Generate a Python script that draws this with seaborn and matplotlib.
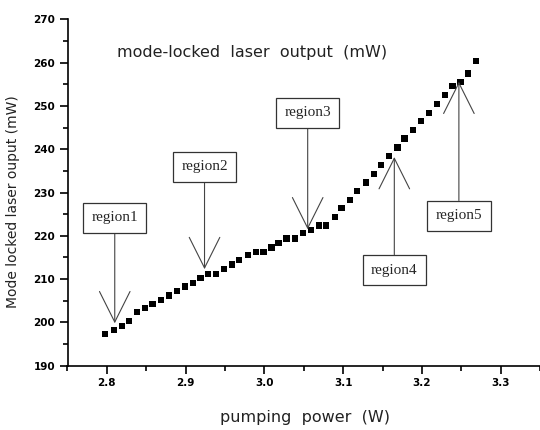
import matplotlib
matplotlib.use("Agg")
import matplotlib.pyplot as plt
import seaborn as sns
import numpy as np
from matplotlib.ticker import MultipleLocator

# ---- data ----
pump_power = [2.798, 2.809, 2.819, 2.828, 2.838, 2.848, 2.858, 2.869, 2.879, 2.889,
              2.899, 2.909, 2.919, 2.928, 2.939, 2.949, 2.959, 2.968, 2.979, 2.989,
              2.999, 3.009, 3.018, 3.028, 3.039, 3.049, 3.059, 3.069, 3.078, 3.090,
              3.098, 3.109, 3.118, 3.129, 3.139, 3.148, 3.158, 3.169, 3.178, 3.189,
              3.199, 3.209, 3.219, 3.229, 3.239, 3.249, 3.259, 3.269]
laser_output = [197.3, 198.2, 199.2, 200.3, 202.4, 203.3, 204.2, 205.2, 206.2, 207.3,
                208.3, 209.1, 210.2, 211.2, 211.2, 212.3, 213.4, 214.5, 215.5, 216.3,
                216.3, 217.3, 218.4, 219.4, 219.4, 220.6, 221.4, 222.4, 222.4, 224.4,
                226.4, 228.3, 230.4, 232.3, 234.3, 236.4, 238.4, 240.4, 242.5, 244.5,
                246.5, 248.4, 250.4, 252.5, 254.6, 255.5, 257.5, 260.4]

region_labels = ["region1", "region2", "region3", "region4", "region5"]
region_tip_x = [2.810, 2.924, 3.055, 3.165, 3.247]
region_tip_y = [199.8, 212.3, 221.5, 238.2, 255.6]
region_box_y = [224.2, 235.9, 248.4, 212.1, 224.6]

x_ticks = [2.8, 2.9, 3.0, 3.1, 3.2, 3.3]
y_ticks = [190, 200, 210, 220, 230, 240, 250, 260, 270]

sns.set_style("ticks")
plt.rcParams['font.family'] = ['DejaVu Sans']

fig = plt.figure(figsize=(5.4, 4.3), dpi=100)
ax = fig.add_axes([0.125, 0.1495, 0.875, 0.8055])

sns.scatterplot(x=pump_power, y=laser_output, marker='s', s=20, color='black',
                edgecolor='none', linewidth=0, ax=ax, legend=False)

ax.set_xlim(2.75, 3.35)
ax.set_ylim(190, 270)
ax.set_xticks(x_ticks)
ax.set_yticks(y_ticks)
ax.xaxis.set_minor_locator(MultipleLocator(0.05))
ax.yaxis.set_minor_locator(MultipleLocator(5))
ax.set_xticklabels([f"{v:.1f}" for v in x_ticks], fontsize=7.5, fontweight='bold')
ax.set_yticklabels([str(v) for v in y_ticks], fontsize=7.5, fontweight='bold')
ax.tick_params(axis='both', which='major', length=6, width=1.2, direction='out', pad=3, colors='black')
ax.tick_params(axis='both', which='minor', length=3.5, width=1.2, direction='out', colors='black')

sns.despine(ax=ax)
for s in ['left', 'bottom']:
    ax.spines[s].set_linewidth(1.2)
    ax.spines[s].set_color('black')

ax.set_xlabel("pumping  power  (W)", fontsize=11.5, color='#222222')
ax.xaxis.set_label_coords(0.503, -0.128)
ax.set_ylabel("Mode locked laser ouput (mW)", fontsize=10, color='#222222')
ax.yaxis.set_label_coords(-0.100, 0.475)

ax.text(0.3915, 0.903, "mode-locked  laser  output  (mW)", transform=ax.transAxes,
        ha='center', va='center', fontsize=11.5, color='#222222')

for lab, tx, ty, by in zip(region_labels, region_tip_x, region_tip_y, region_box_y):
    ax.annotate(lab, xy=(tx, ty), xytext=(tx, by), ha='center', va='center',
                fontsize=11, family=['Liberation Serif', 'DejaVu Serif'],
                bbox=dict(boxstyle='square,pad=0.55', fc='white', ec='#333333', lw=0.9),
                arrowprops=dict(arrowstyle='->,head_length=2.0,head_width=1.0',
                                color='#444444', lw=0.8, shrinkA=0, shrinkB=0))

fig.savefig("out.png", dpi=100)
